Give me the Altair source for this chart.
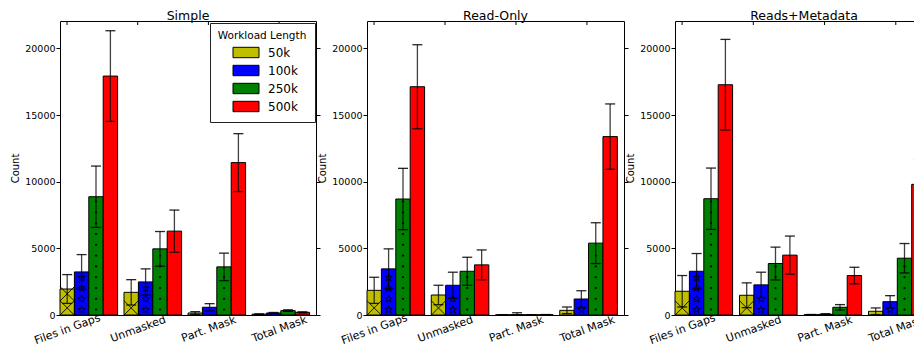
import altair as alt
import pandas as pd

# ---------------- data ----------------
panels = ["Simple", "Read-Only", "Reads+Metadata"]
categories = ["Files in Gaps", "Unmasked", "Part. Mask", "Total Mask"]
workloads = ["50k", "100k", "250k", "500k"]
colors = ["#bfbf00", "#0000ff", "#008000", "#ff0000"]
y_ticks = [0, 5000, 10000, 15000, 20000]

# values per category, in workload order (50k, 100k, 250k, 500k)
simple_files = [1950, 3230, 8870, 17920]
simple_unmasked = [1700, 2480, 4960, 6290]
simple_partial = [150, 580, 3610, 11430]
simple_total = [60, 150, 330, 200]
simple_files_err = [1080, 1300, 2300, 3400]
simple_unmasked_err = [950, 980, 1300, 1580]
simple_partial_err = [100, 270, 1030, 2170]
simple_total_err = [30, 40, 60, 40]

readonly_files = [1850, 3460, 8700, 17120]
readonly_unmasked = [1500, 2230, 3280, 3760]
readonly_partial = [10, 20, 15, 20]
readonly_total = [350, 1200, 5390, 13380]
readonly_files_err = [980, 1500, 2300, 3150]
readonly_unmasked_err = [730, 980, 1050, 1120]
readonly_partial_err = [10, 150, 10, 15]
readonly_total_err = [250, 620, 1530, 2450]

meta_files = [1780, 3280, 8720, 17270]
meta_unmasked = [1480, 2260, 3860, 4490]
meta_partial = [20, 50, 580, 2960]
meta_total = [280, 1000, 4260, 9800]
meta_files_err = [1180, 1330, 2300, 3400]
meta_unmasked_err = [930, 950, 1230, 1430]
meta_partial_err = [20, 50, 200, 620]
meta_total_err = [250, 450, 1100, 1900]

panel_values = {
    "Simple": ([simple_files, simple_unmasked, simple_partial, simple_total],
               [simple_files_err, simple_unmasked_err, simple_partial_err, simple_total_err]),
    "Read-Only": ([readonly_files, readonly_unmasked, readonly_partial, readonly_total],
                  [readonly_files_err, readonly_unmasked_err, readonly_partial_err, readonly_total_err]),
    "Reads+Metadata": ([meta_files, meta_unmasked, meta_partial, meta_total],
                       [meta_files_err, meta_unmasked_err, meta_partial_err, meta_total_err]),
}

# ---------------- styling constants ----------------
PANEL_W = {"Simple": 256, "Read-Only": 257, "Reads+Metadata": 258}
PLOT_H = 294
Y_MAX = PLOT_H * 75  # 300 px per 22500 counts
FONT = "DejaVu Sans"
X_PATH = "M-1,-1L1,1M-1,1L1,-1"
STAR_PATH = ("M0,-1L0.235,-0.324L0.951,-0.309L0.38,0.124L0.588,0.809L0,0.4"
             "L-0.588,0.809L-0.38,0.124L-0.951,-0.309L-0.235,-0.324Z")
# legend patch 26 x 10.4 px drawn from a small nominal symbol size
RECT_PATH = "M-6.5,-2.6L6.5,-2.6L6.5,2.6L-6.5,2.6Z"
HATCH_STEP = {"50k": 1060, "100k": 800, "250k": 810}


def bar_frame(panel):
    vals, errs = panel_values[panel]
    rows = []
    for ci, cat in enumerate(categories):
        for wi, wl in enumerate(workloads):
            v = vals[ci][wi]
            e = errs[ci][wi]
            rows.append({"cat": cat, "wl": wl, "value": v,
                         "lo": max(v - e, 0), "hi": v + e})
    return pd.DataFrame(rows)


def hatch_frame(df, wl, fill_frac):
    step = HATCH_STEP[wl]
    rows = []
    for _, r in df[df["wl"] == wl].iterrows():
        k = 0
        while (k + 0.5) * step + fill_frac * step <= r["value"]:
            rows.append({"cat": r["cat"], "wl": wl, "hy": (k + 0.5) * step})
            k += 1
    return pd.DataFrame(rows, columns=["cat", "wl", "hy"])


x_band = alt.Scale(domain=categories, paddingInner=0.1, paddingOuter=0.05, align=0)
x_off = alt.Scale(domain=workloads)
y_scale = alt.Scale(domain=[0, Y_MAX], nice=False, zero=True)


def panel_chart(panel, show_legend):
    df = bar_frame(panel)
    caps = pd.concat([
        df[["cat", "wl", "lo"]].rename(columns={"lo": "cap"}),
        df[["cat", "wl", "hi"]].rename(columns={"hi": "cap"}),
    ])

    x_enc = alt.X("cat:N", scale=x_band, axis=None)
    xo_enc = alt.XOffset("wl:N", scale=x_off)

    if show_legend:
        legend = alt.Legend(
            title="Workload Length", orient="none", legendX=150, legendY=2,
            titleFontSize=10.5, titleFontWeight="normal", titleColor="black",
            titleAnchor="middle", titlePadding=5,
            labelFontSize=12, labelColor="black", labelOffset=16,
            symbolType=RECT_PATH, symbolSize=16, symbolStrokeColor="black",
            symbolStrokeWidth=1, symbolOffset=13, rowPadding=2,
            strokeColor="#222", fillColor="white", padding=8, cornerRadius=0,
        )
    else:
        legend = None

    bars = alt.Chart(df).mark_bar(stroke="black", strokeWidth=1, opacity=1).encode(
        x=x_enc, xOffset=xo_enc,
        y=alt.Y("value:Q", scale=y_scale,
                axis=alt.Axis(values=y_ticks, format="d", labelFontSize=9.5,
                              tickSize=4, domain=False, grid=False, labelPadding=1,
                              title="Count", titleFontSize=10, titleFontWeight="normal",
                              titlePadding=4)),
        color=alt.Color("wl:N", scale=alt.Scale(domain=workloads, range=colors),
                        legend=legend),
    )

    h50 = alt.Chart(hatch_frame(df, "50k", 0.3)).mark_point(
        shape=X_PATH, size=205, filled=False, stroke="black", strokeWidth=0.9, opacity=1
    ).encode(x=x_enc, xOffset=xo_enc, y=alt.Y("hy:Q", scale=y_scale, axis=None))

    h100 = alt.Chart(hatch_frame(df, "100k", 0.35)).mark_point(
        shape=STAR_PATH, size=60, filled=False, stroke="black", strokeWidth=0.8, opacity=1
    ).encode(x=x_enc, xOffset=xo_enc, y=alt.Y("hy:Q", scale=y_scale, axis=None))

    h250 = alt.Chart(hatch_frame(df, "250k", 0.2)).mark_circle(
        size=5, color="black", opacity=1
    ).encode(x=x_enc, xOffset=xo_enc, y=alt.Y("hy:Q", scale=y_scale, axis=None))

    err = alt.Chart(df).mark_rule(color="black", strokeWidth=1.3, opacity=0.75).encode(
        x=x_enc, xOffset=xo_enc,
        y=alt.Y("lo:Q", scale=y_scale, axis=None), y2="hi:Q",
    )

    cap = alt.Chart(caps).mark_tick(color="black", thickness=1.3, size=10, opacity=0.85).encode(
        x=x_enc, xOffset=xo_enc,
        y=alt.Y("cap:Q", scale=y_scale,
                axis=alt.Axis(orient="right", values=y_ticks, labels=False, ticks=True,
                              tickSize=4, domain=False, grid=False, title=None)),
    )

    inner = alt.layer(bars, h50, h100, h250, err, cap).resolve_axis(y="independent")

    cat_df = pd.DataFrame({"cat": categories})
    top_ticks = alt.Chart(cat_df).mark_rule(color="black", strokeWidth=1).encode(
        x=alt.X("cat:N",
                scale=alt.Scale(type="point", domain=categories, padding=0.311, align=0.16),
                axis=alt.Axis(orient="bottom", labelAngle=-20, labelAlign="center",
                              labelBaseline="middle", labelPadding=14, ticks=False,
                              domain=False, grid=False, title=None, labelFontSize=11,
                              labelOverlap=False, labelBound=False, labelFlush=False)),
        y=alt.value(0), y2=alt.value(4),
    )

    return alt.layer(inner, top_ticks).resolve_scale(x="independent").properties(
        width=PANEL_W[panel], height=PLOT_H, title=panel
    )


chart = alt.hconcat(
    panel_chart("Simple", True),
    panel_chart("Read-Only", False),
    panel_chart("Reads+Metadata", False),
    spacing=51,
    bounds="flush",
).resolve_scale(color="independent").properties(
    autosize=alt.AutoSizeParams(type="none"),
    padding={"left": 52, "top": 13, "right": 854, "bottom": 325},
).configure(font=FONT).configure_view(
    stroke="black", strokeWidth=1
).configure_axis(
    labelColor="black", titleColor="black", tickColor="black",
    labelFont=FONT, titleFont=FONT,
).configure_title(
    font=FONT, fontSize=12.5, fontWeight="normal", color="black", offset=2,
    baseline="alphabetic", dy=3.5
)

chart.save("out.html", embed_options={"renderer": "svg", "actions": False})
